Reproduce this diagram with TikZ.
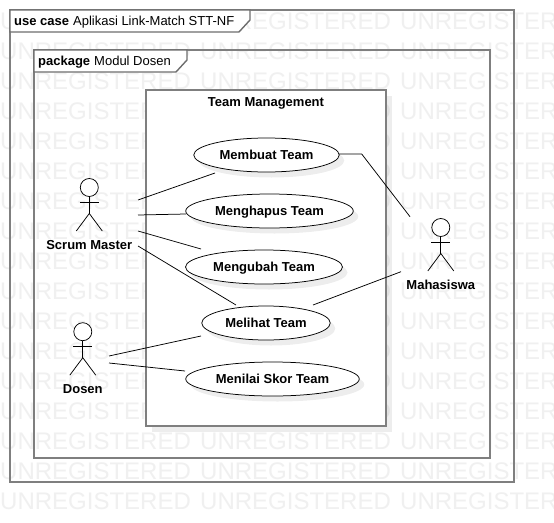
\documentclass[tikz,border=0pt]{standalone}
\usepackage{fontspec}
\setmainfont{Liberation Sans}
\usetikzlibrary{positioning, shapes.geometric}
\definecolor{framegray}{HTML}{7F7F7F}
\definecolor{tabgray}{HTML}{6E6E6E}
\definecolor{markgray}{HTML}{F0F0F0}
\tikzset{%
  mark text/.style={text=markgray, font=\fontsize{24}{25}\selectfont, inner sep=0pt, anchor=west},
  frame line/.style={draw=framegray, line width=1.8pt},
  tab line/.style={draw=tabgray, line width=1.4pt, fill=white},
  shade/.style={fill=black, fill opacity=0.07},
  label/.style={font=\fontsize{13}{15}\selectfont\bfseries, inner sep=0pt, text height=9.3pt, text depth=0pt},
  usecase/.style={label, draw=black, ellipse, fill=white, line width=0.75pt},
  tabtext/.style={font=\fontsize{13}{15}\selectfont, inner sep=0pt, anchor=west, text height=9.3pt, text depth=0pt},
  head/.style={draw=black, circle, fill=white, minimum size=18pt, inner sep=0pt, line width=0.75pt},
  edge line/.style={draw=black, line width=0.75pt}
}
\begin{document}
\begin{tikzpicture}[x=1pt, y=-1pt]
  \useasboundingbox (0,0) rectangle (554,522);
  \fill[white] (0,0) rectangle (554,522);
  % watermark rows
  \foreach \r in {0,...,16} {
    \foreach \c in {0,1,2} {
      \node[mark text] (mark\r\c) at ({200*\c},{21.5+30*\r}) {UNREGISTERED};
    }
  }
  % outer frame
  \draw[frame line] (10,10) rectangle (514,482);
  \draw[tab line] (10,10) -- (250,10) -- (250,20) -- (239,32) -- (10,32) -- cycle;
  \node[tabtext] (uselabel) at (14,20.7) {\textbf{use case}\hspace{4pt}Aplikasi Link-Match STT-NF};
  % package frame
  \draw[frame line] (34,50) rectangle (490,458);
  \draw[tab line] (34,50) -- (187,50) -- (187,60) -- (176,72) -- (34,72) -- cycle;
  \node[tabtext] (packlabel) at (38,60.7) {\textbf{package}\hspace{4pt}Modul Dosen};
  % system box
  \fill[shade] (152,96) rectangle (392,432);
  \draw[frame line, fill=white] (146,90) rectangle (386,426);
  \node[label] (system) at (266,102) {Team Management};
  % use cases
  \foreach \n/\x/\y/\w/\t in {
    ub/266.5/155/145.5/Membuat Team,
    uh/269.5/211/167.5/Menghapus Team,
    uu/264/267/157/Mengubah Team,
    ul/266/323/128.5/Melihat Team,
    us/272.5/379/173.5/Menilai Skor Team} {
    \fill[shade] (\x+5,\y+5.5) ellipse ({\w/2} and 17);
    \node[usecase, inner sep=0pt, minimum width=\w pt, minimum height=34pt] (\n) at (\x,\y) {\t};
  }
  % actors
  \foreach \n/\x/\y/\t in {sm/89.3/187.5/Scrum Master, ds/82.8/331.7/Dosen, mh/440.8/227.5/Mahasiswa} {
    \node[head] (\n) at (\x,\y) {};
    \coordinate (\n hip) at (\x,\y+26);
    \draw[edge line] (\n.south) -- (\n hip);
    \draw[edge line] (\x-9.5,\y+15) -- (\x+9.5,\y+15);
    \draw[edge line] (\x-13,\y+43.5) -- (\n hip) -- (\x+13,\y+43.5);
    \node[label] (\n label) at (\x,\y+57.2) {\t};
  }
  % connector ends
  \coordinate (sma) at (138,200);
  \coordinate (smb) at (138,215);
  \coordinate (smc) at (138,231);
  \coordinate (smd) at (138,246);
  \coordinate (dsa) at (109,356);
  \coordinate (dsb) at (109,363);
  \coordinate (mha) at (410,216.7);
  \coordinate (mhb) at (401,271.7);
  \coordinate (uba) at (215,173);
  \coordinate (ubb) at (339,154);
  \coordinate (ubc) at (361.7,154);
  \coordinate (uca) at (186,214);
  \coordinate (uua) at (201,249);
  \coordinate (ula) at (236,305);
  \coordinate (ulb) at (201,336);
  \coordinate (ulc) at (313,305);
  \coordinate (usa) at (185,371);
  \path[edge line]
  (sma) edge (uba)
  (smb) edge (uca)
  (smc) edge (uua)
  (smd) edge (ula)
  (dsa) edge (ulb)
  (dsb) edge (usa)
  (ulc) edge (mhb);
  \draw[edge line] (ubb) -- (ubc) -- (mha);
\end{tikzpicture}
\end{document}
